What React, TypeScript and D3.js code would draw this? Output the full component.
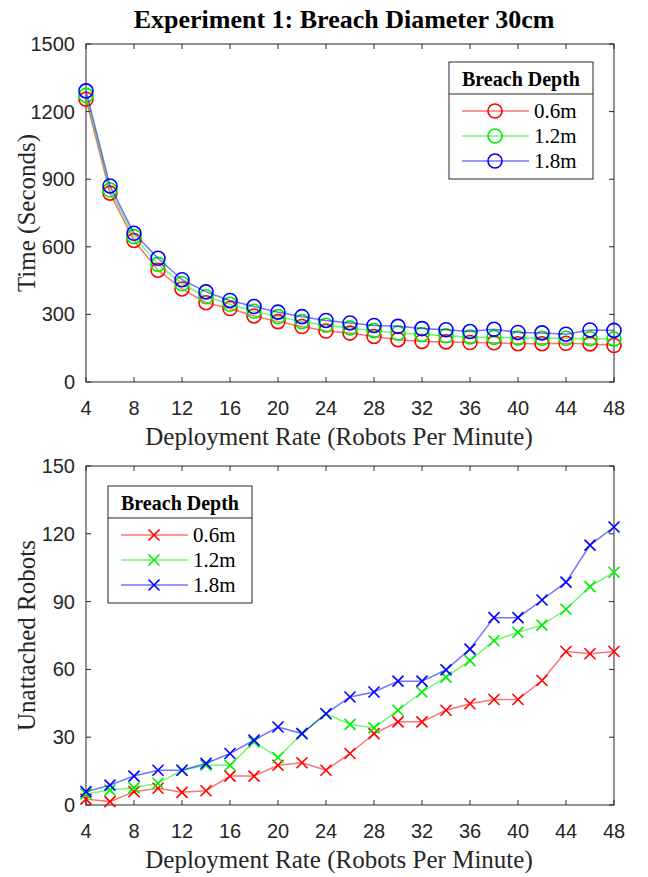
import { useEffect, useRef } from 'react';
import * as d3 from 'd3';

// deployment rate (robots per minute)
const rates = [4, 6, 8, 10, 12, 14, 16, 18, 20, 22, 24, 26, 28, 30, 32, 34, 36, 38, 40, 42, 44, 46, 48];
const depths = ['0.6m', '1.2m', '1.8m'];
const colors = ['#ff0000', '#00ee00', '#0000ff'];

// time to seal breach (seconds)
const time06 = [1255, 838, 628, 496, 413, 352, 326, 293, 268, 246, 226, 217, 202, 188, 180, 178, 175, 174, 170, 170, 172, 169, 162];
const time12 = [1272, 852, 645, 522, 436, 378, 345, 314, 290, 268, 252, 240, 228, 217, 211, 205, 200, 198, 195, 194, 194, 192, 191];
const time18 = [1292, 870, 660, 549, 454, 400, 362, 335, 310, 290, 273, 262, 251, 247, 237, 232, 224, 234, 220, 218, 212, 231, 229];

// unattached robots
const robots06 = [2.6, 1.5, 5.9, 7.4, 5.6, 6.3, 12.8, 12.8, 17.6, 18.7, 15.4, 22.8, 31.6, 36.8, 36.8, 41.9, 44.8, 46.7, 46.7, 55.1, 67.9, 66.9, 67.9];
const robots12 = [4.9, 6.6, 7.6, 9.6, 15.4, 17.6, 17.6, 27.9, 21, 31.6, 40.4, 35.7, 34.1, 41.9, 50, 56.6, 63.9, 72.7, 76.4, 79.6, 86.6, 96.6, 103];
const robots18 = [5.9, 8.8, 12.8, 15.4, 15.4, 18.4, 22.8, 28.7, 34.5, 31.6, 40.4, 47.8, 50, 54.8, 54.8, 59.8, 69, 82.9, 82.9, 90.7, 98.6, 115, 123];

const xTicks = [4, 8, 12, 16, 20, 24, 28, 32, 36, 40, 44, 48];
const timeTicks = [0, 300, 600, 900, 1200, 1500];
const robotTicks = [0, 30, 60, 90, 120, 150];

const width = 648;
const height = 877;
const left = 86;
const right = 614;
const serif = 'Liberation Serif, Times New Roman, serif';
const sans = 'Liberation Sans, Arial, sans-serif';

const App = () => {
    const svgRef = useRef(null);

    useEffect(() => {
        const svg = d3.select(svgRef.current);
        svg.selectAll('*').remove();

        const x = d3.scaleLinear().domain([4, 48]).range([left, right]);

        const drawPanel = (opts) => {
            const { top, bottom, yMax, yTicks, series, marker, yLabel, legendX, legendY } = opts;
            const y = d3.scaleLinear().domain([0, yMax]).range([bottom, top]);
            const g = svg.append('g');

            // plot frame
            g.append('rect')
                .attr('x', left).attr('y', top)
                .attr('width', right - left).attr('height', bottom - top)
                .attr('fill', 'none').attr('stroke', '#262626').attr('stroke-width', 1);

            // ticks inward on all four sides
            xTicks.forEach(t => {
                g.append('line').attr('x1', x(t)).attr('x2', x(t)).attr('y1', bottom).attr('y2', bottom - 5).attr('stroke', '#262626');
                g.append('line').attr('x1', x(t)).attr('x2', x(t)).attr('y1', top).attr('y2', top + 5).attr('stroke', '#262626');
                g.append('text').text(t)
                    .attr('x', x(t)).attr('y', bottom + 33)
                    .attr('text-anchor', 'middle')
                    .attr('font-family', sans)
                    .attr('font-size', 20).attr('fill', '#262626');
            });
            yTicks.forEach(t => {
                g.append('line').attr('x1', left).attr('x2', left + 5).attr('y1', y(t)).attr('y2', y(t)).attr('stroke', '#262626');
                g.append('line').attr('x1', right).attr('x2', right - 5).attr('y1', y(t)).attr('y2', y(t)).attr('stroke', '#262626');
                g.append('text').text(t)
                    .attr('x', left - 11).attr('y', y(t) + 7)
                    .attr('text-anchor', 'end')
                    .attr('font-family', sans)
                    .attr('font-size', 20).attr('fill', '#262626');
            });

            g.append('text').text('Deployment Rate (Robots Per Minute)')
                .attr('x', 339).attr('y', bottom + 63)
                .attr('text-anchor', 'middle')
                .attr('font-family', serif)
                .attr('font-size', 25).attr('fill', '#262626');

            g.append('text').text(yLabel)
                .attr('transform', `translate(35,${(top + bottom) / 2}) rotate(-90)`)
                .attr('text-anchor', 'middle')
                .attr('font-family', serif)
                .attr('font-size', 25).attr('fill', '#262626');

            const line = d3.line().x((d, i) => x(rates[i])).y(d => y(d));

            const drawMarker = (sel, cx, cy, color) => {
                if (marker === 'circle') {
                    sel.append('circle').attr('cx', cx).attr('cy', cy).attr('r', 7)
                        .attr('fill', 'none').attr('stroke', color).attr('stroke-width', 1.6);
                } else {
                    const s = 5.5;
                    sel.append('path')
                        .attr('d', `M${cx - s},${cy - s}L${cx + s},${cy + s}M${cx - s},${cy + s}L${cx + s},${cy - s}`)
                        .attr('stroke', color).attr('stroke-width', 1.6);
                }
            };

            series.forEach((vals, k) => {
                g.append('path').datum(vals)
                    .attr('d', line)
                    .attr('fill', 'none')
                    .attr('stroke', colors[k])
                    .attr('stroke-opacity', 0.55)
                    .attr('stroke-width', 1.5);
                vals.forEach((v, i) => drawMarker(g, x(rates[i]), y(v), colors[k]));
            });

            // legend
            const lw = 144;
            const lg = g.append('g').attr('transform', `translate(${legendX},${legendY})`);
            lg.append('rect').attr('width', lw).attr('height', 117)
                .attr('fill', '#fff').attr('stroke', '#262626').attr('stroke-width', 1);
            lg.append('line').attr('x1', 0).attr('x2', lw).attr('y1', 32).attr('y2', 32).attr('stroke', '#262626');
            lg.append('text').text('Breach Depth')
                .attr('x', lw / 2).attr('y', 24)
                .attr('text-anchor', 'middle')
                .attr('font-family', serif)
                .attr('font-weight', 'bold')
                .attr('font-size', 20).attr('fill', '#000');
            depths.forEach((d, k) => {
                const ly = 49 + k * 25;
                lg.append('line').attr('x1', 13).attr('x2', 80).attr('y1', ly).attr('y2', ly)
                    .attr('stroke', colors[k]).attr('stroke-opacity', 0.55).attr('stroke-width', 1.5);
                drawMarker(lg, 46, ly, colors[k]);
                lg.append('text').text(d)
                    .attr('x', 85).attr('y', ly + 7)
                    .attr('font-family', serif)
                    .attr('font-size', 21).attr('fill', '#000');
            });
        };

        svg.append('text').text('Experiment 1: Breach Diameter 30cm')
            .attr('x', 344).attr('y', 28)
            .attr('text-anchor', 'middle')
            .attr('font-family', serif)
            .attr('font-weight', 'bold')
            .attr('font-size', 26).attr('fill', '#000');

        drawPanel({
            top: 44, bottom: 382, yMax: 1500, yTicks: timeTicks,
            series: [time06, time12, time18], marker: 'circle',
            yLabel: 'Time (Seconds)', legendX: 449, legendY: 62,
        });

        drawPanel({
            top: 466, bottom: 805, yMax: 150, yTicks: robotTicks,
            series: [robots06, robots12, robots18], marker: 'cross',
            yLabel: 'Unattached Robots', legendX: 108, legendY: 486,
        });
    }, []);

    return (
        <svg ref={svgRef} width={width} height={height}
            style={{ position: 'absolute', left: 0, top: 0, background: '#fff' }} />
    );
};

export default App;
